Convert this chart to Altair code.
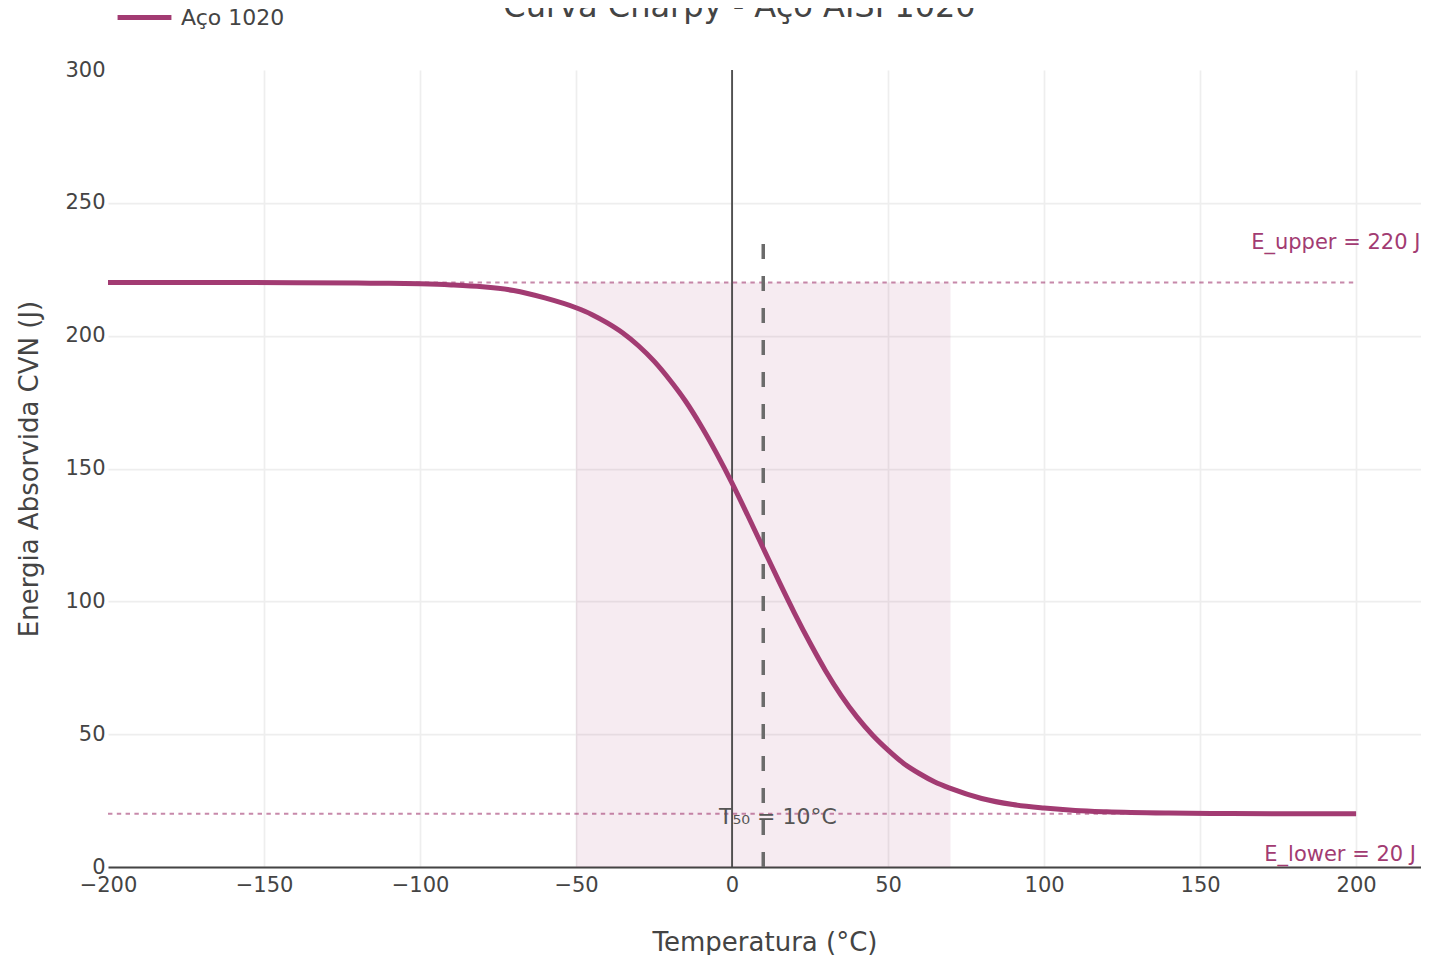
import altair as alt
import pandas as pd

# ---- data ----
temps = [-200, -180, -160, -140, -120, -110, -100, -90, -80, -70, -60, -50, -45,
         -40, -35, -30, -25, -20, -15, -10, -5, 0, 5, 10, 15, 20, 25, 30, 35, 40,
         45, 50, 55, 60, 65, 70, 80, 90, 100, 110, 120, 140, 160, 180, 200]
energy = [220.0, 220.0, 220.0, 219.9, 219.8, 219.7, 219.5, 219.1, 218.4, 217.0,
          214.2, 210.5, 208.0, 204.8, 201.0, 196.2, 190.4, 183.4, 175.5, 166.2,
          155.8, 144.5, 132.4, 120.0, 107.6, 95.6, 84.3, 73.8, 64.5, 56.5, 49.7,
          44.0, 39.0, 35.2, 32.0, 29.6, 25.8, 23.5, 22.2, 21.3, 20.8, 20.3, 20.1,
          20.0, 20.0]
series_name = "Aço 1020"

band_start = [-50]
band_end = [70]
band_low = [0]
band_high = [220]

ref_levels = [220, 20]
ref_start = [-200, -200]
ref_end = [200, 200]

t50_x = [10]
t50_low = [0]
t50_high = [240]

label_texts = ["E_upper = 220 J", "E_lower = 20 J"]
label_x = [220.6, 219.2]
label_y = [235, 4.5]

t50_text = ["T₅₀ = 10°C"]
t50_text_x = [14.7]
t50_text_y = [18.8]

x_ticks = [-200, -150, -100, -50, 0, 50, 100, 150, 200]
y_ticks = [0, 50, 100, 150, 200, 250, 300]
x_domain = [-200, 220.8]
y_domain = [0, 300]

COLOR = "#A23B72"
FONT = "DejaVu Sans"

curve_df = pd.DataFrame({"T": temps, "E": energy, "serie": [series_name] * len(temps)})
band_df = pd.DataFrame({"x": band_start, "x2": band_end, "y": band_low, "y2": band_high})
ref_df = pd.DataFrame({"y": ref_levels, "x": ref_start, "x2": ref_end})
vline_df = pd.DataFrame({"x": t50_x, "y": t50_low, "y2": t50_high})
lab_df = pd.DataFrame({"t": label_texts, "x": label_x, "y": label_y})
t50_df = pd.DataFrame({"t": t50_text, "x": t50_text_x, "y": t50_text_y})
zero_df = pd.DataFrame({"x": [0]})

xs = alt.Scale(domain=x_domain, nice=False, zero=False)
ys = alt.Scale(domain=y_domain, nice=False)

x_axis = alt.Axis(values=x_ticks, title="Temperatura (°C)", grid=True,
                  gridColor=alt.condition("datum.value == -200", alt.value("transparent"),
                                          alt.value("#eeeeee")),
                  domain=True, domainColor="#444", domainWidth=2,
                  labelPadding=7, titlePadding=34, labelFlush=False)
y_axis = alt.Axis(values=y_ticks, title="Energia Absorvida CVN (J)", grid=True,
                  gridColor=alt.condition("datum.value == 300", alt.value("transparent"),
                                          alt.value("#eeeeee")),
                  domain=False, labelPadding=3, titlePadding=22)

band = alt.Chart(band_df).mark_rect(color=COLOR, opacity=0.1).encode(
    x=alt.X("x:Q", scale=xs, axis=x_axis), x2="x2:Q",
    y=alt.Y("y:Q", scale=ys, axis=y_axis), y2="y2:Q")

zero_rule = alt.Chart(zero_df).mark_rule(color="#444", strokeWidth=1.75).encode(
    x=alt.X("x:Q", scale=xs))

refs = alt.Chart(ref_df).mark_rule(color=COLOR, opacity=0.6, strokeWidth=2,
                                   strokeDash=[4.4, 4.4]).encode(
    x=alt.X("x:Q", scale=xs), x2="x2:Q", y=alt.Y("y:Q", scale=ys))

vline = alt.Chart(vline_df).mark_rule(color="#6b6b6b", strokeWidth=3.5,
                                      strokeDash=[15, 17]).encode(
    x=alt.X("x:Q", scale=xs), y=alt.Y("y:Q", scale=ys), y2="y2:Q")

curve = alt.Chart(curve_df).mark_line(strokeWidth=5, interpolate="monotone").encode(
    x=alt.X("T:Q", scale=xs),
    y=alt.Y("E:Q", scale=ys),
    color=alt.Color("serie:N", scale=alt.Scale(range=[COLOR]),
                    legend=alt.Legend(title=None, orient="none", legendX=7, legendY=-82,
                                      symbolType="stroke", symbolSize=2900,
                                      symbolStrokeWidth=5, labelFontSize=22,
                                      labelColor="#444", labelFont=FONT,
                                      labelOffset=7, padding=0)))

labels = alt.Chart(lab_df).mark_text(align="right", baseline="middle", fontSize=21,
                                     color=COLOR, font=FONT).encode(
    x=alt.X("x:Q", scale=xs), y=alt.Y("y:Q", scale=ys), text="t:N")

t50_lab = alt.Chart(t50_df).mark_text(align="center", baseline="middle", fontSize=22,
                                      color="#555", font=FONT).encode(
    x=alt.X("x:Q", scale=xs), y=alt.Y("y:Q", scale=ys), text="t:N")

chart = alt.layer(band, zero_rule, refs, t50_lab, vline, curve, labels).properties(
    width=1313, height=797,
    title=alt.TitleParams("Curva Charpy - Aço AISI 1020", fontSize=32, font=FONT,
                          color="#444", fontWeight="normal", anchor="middle",
                          dx=-25, offset=-36),
    autosize=alt.AutoSizeParams(type="none"),
    padding={"left": 100, "top": 62, "right": 0, "bottom": 88},
).configure_view(stroke=None).configure_axis(
    labelFont=FONT, labelFontSize=21, labelColor="#444",
    titleFont=FONT, titleFontSize=26, titleColor="#444", titleFontWeight="normal",
    ticks=False, gridWidth=1.75,
)

chart.save("out.html", embed_options={"renderer": "svg", "actions": False})
